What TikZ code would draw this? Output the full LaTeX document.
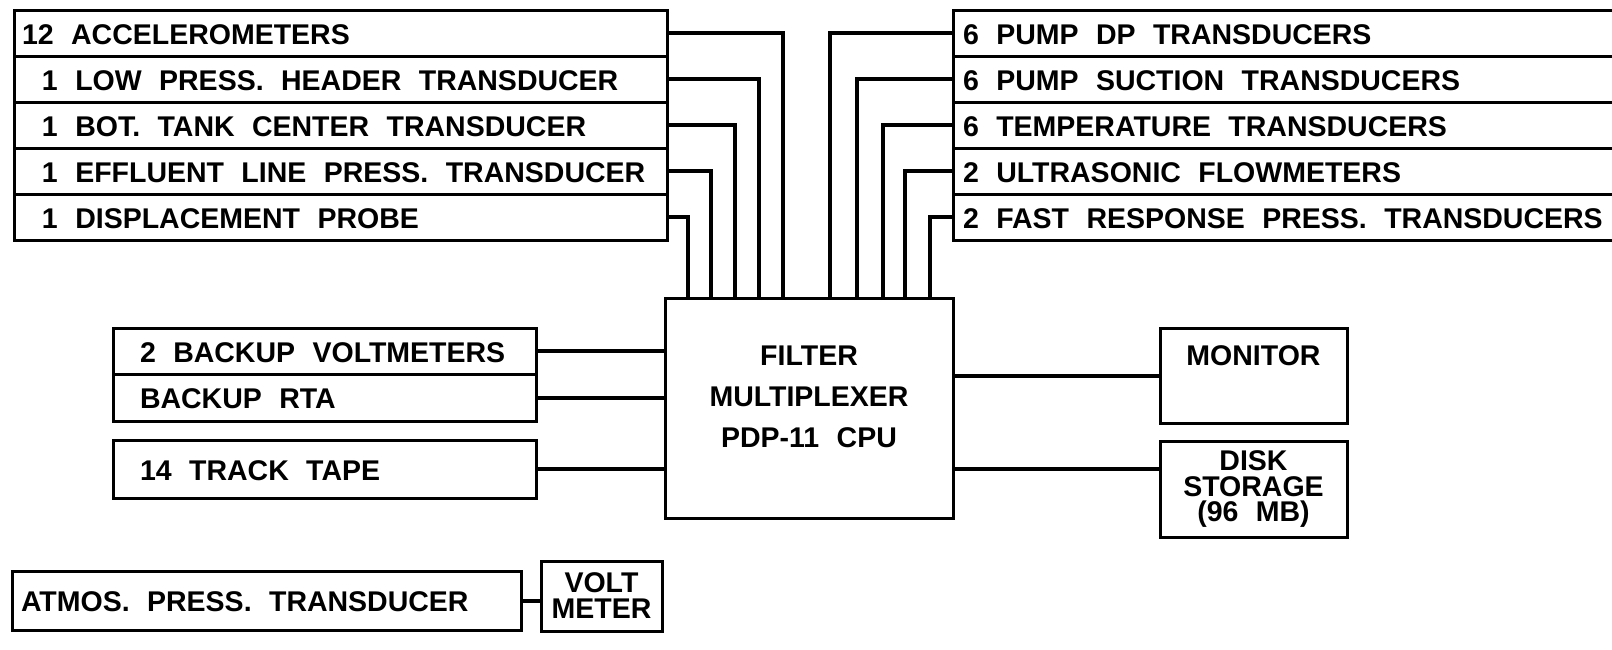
\documentclass[tikz,border=0pt]{standalone}
\usepackage{fontspec}
\newfontfamily\dgmfont{Liberation Sans}[WordSpace=2.2]
\usepackage{tikz}
\usetikzlibrary{positioning}
\tikzstyle{row} = [rectangle, draw=black, line width=3pt, outer sep=0pt, inner ysep=0pt, minimum height=46pt, text height=22.4pt, text depth=-2pt, anchor=north west]
\tikzstyle{unit} = [rectangle, draw=black, line width=3pt, outer sep=0pt, align=center]
\tikzstyle{wire} = [line width=4pt]
\newcommand{\lrow}[1]{\makebox[637pt][l]{#1}}
\newcommand{\rrow}[1]{\makebox[680pt][l]{#1}}
\newcommand{\brow}[1]{\makebox[369pt][l]{#1}}
\newcommand{\pad}{\hspace*{20pt}}

\begin{document}
\begin{tikzpicture}[x=1pt, y=-1pt, every node/.style={font=\dgmfont\bfseries\fontsize{28.5}{34}\selectfont}]
    \useasboundingbox (0,0) rectangle (1612,649);
    \clip (0,0) rectangle (1612,649);

    % sensors, left
    \node (acc) [row, inner xsep=8pt] at (14,10) {\lrow{12 ACCELEROMETERS}};
    \node (low) [row, inner xsep=8pt, below=0pt of acc] {\lrow{\pad 1 LOW PRESS. HEADER TRANSDUCER}};
    \node (bot) [row, inner xsep=8pt, below=0pt of low] {\lrow{\pad 1 BOT. TANK CENTER TRANSDUCER}};
    \node (eff) [row, inner xsep=8pt, below=0pt of bot] {\lrow{\pad 1 EFFLUENT LINE PRESS. TRANSDUCER}};
    \node (disp) [row, inner xsep=8pt, below=0pt of eff] {\lrow{\pad 1 DISPLACEMENT PROBE}};

    % sensors, right
    \node (dp) [row, inner xsep=10pt] at (953,10) {\rrow{6 PUMP DP TRANSDUCERS}};
    \node (suct) [row, inner xsep=10pt, below=0pt of dp] {\rrow{6 PUMP SUCTION TRANSDUCERS}};
    \node (temp) [row, inner xsep=10pt, below=0pt of suct] {\rrow{6 TEMPERATURE TRANSDUCERS}};
    \node (flow) [row, inner xsep=10pt, below=0pt of temp] {\rrow{2 ULTRASONIC FLOWMETERS}};
    \node (fast) [row, inner xsep=10pt, below=0pt of flow] {\rrow{2 FAST RESPONSE PRESS. TRANSDUCERS}};

    % computer
    \node (cpu) [unit, minimum width=288pt, minimum height=220pt, label={[align=center, yshift=11pt]center:FILTER\\[7pt]MULTIPLEXER\\[7pt]PDP-11 CPU}] at (809,408) {};

    \node (bvolt) [row, inner xsep=27pt, minimum height=46.5pt] at (113,328) {\brow{2 BACKUP VOLTMETERS}};
    \node (brta) [row, inner xsep=27pt, minimum height=46.5pt, below=0pt of bvolt] {\brow{BACKUP RTA}};
    \node (tape) [row, inner xsep=27pt, minimum height=58pt] at (113,440) {\brow{14 TRACK TAPE}};

    \node (monitor) [unit, minimum width=187pt, minimum height=95pt, anchor=north west, label={[yshift=20pt]center:MONITOR}] at (1160,328) {};
    \node (disk) [unit, minimum width=187pt, minimum height=96pt, anchor=north west, font=\dgmfont\bfseries\fontsize{28.5}{25.5}\selectfont] at (1160,441) {DISK\\STORAGE\\(96 MB)};

    \node (atmos) [row, inner xsep=9pt, minimum height=59pt] at (12,571) {\makebox[491pt][l]{ATMOS. PRESS. TRANSDUCER}};
    \node (vm) [unit, minimum width=121pt, minimum height=70pt, anchor=north west, font=\dgmfont\bfseries\fontsize{28.5}{26}\selectfont] at (541,561) {VOLT\\METER};

    \draw [wire] (acc.east) -| ([xshift=118pt]cpu.north west);
    \draw [wire] (low.east) -| ([xshift=94pt]cpu.north west);
    \draw [wire] (bot.east) -| ([xshift=70pt]cpu.north west);
    \draw [wire] (eff.east) -| ([xshift=46pt]cpu.north west);
    \draw [wire] (disp.east) -| ([xshift=23pt]cpu.north west);

    \draw [wire] (dp.west) -| ([xshift=-123pt]cpu.north east);
    \draw [wire] (suct.west) -| ([xshift=-96pt]cpu.north east);
    \draw [wire] (temp.west) -| ([xshift=-70pt]cpu.north east);
    \draw [wire] (flow.west) -| ([xshift=-48pt]cpu.north east);
    \draw [wire] (fast.west) -| ([xshift=-23pt]cpu.north east);

    \draw [wire] (bvolt.east) -- (bvolt.east -| cpu.west);
    \draw [wire] (brta.east) -- (brta.east -| cpu.west);
    \draw [wire] (tape.east) -- (tape.east -| cpu.west);
    \draw [wire] (cpu.east |- monitor.west) -- (monitor.west);
    \draw [wire] (cpu.east |- tape.east) -- (disk.west |- tape.east);
    \draw [wire] (atmos.east) -- (atmos.east -| vm.west);
\end{tikzpicture}
\end{document}
